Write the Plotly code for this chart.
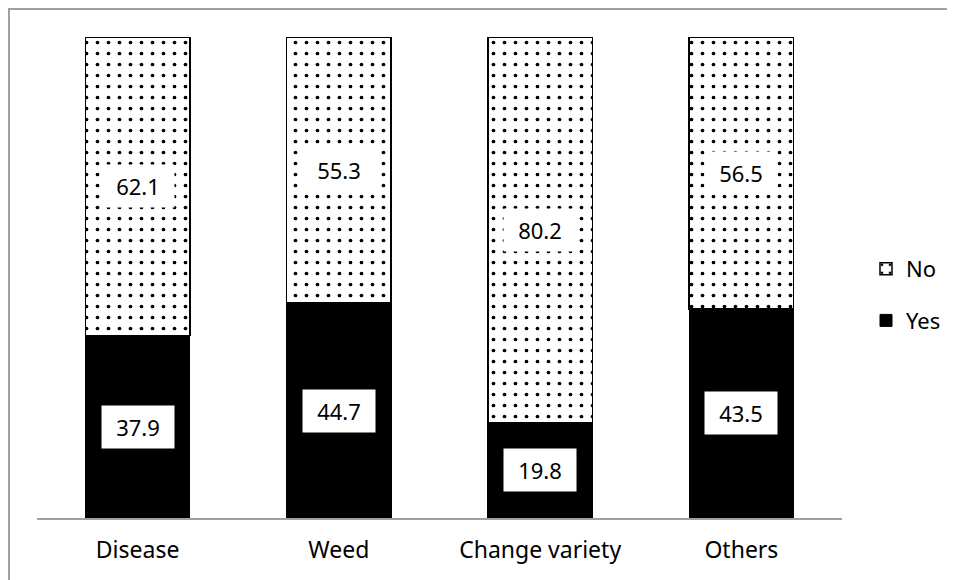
import plotly.graph_objects as go

categories = ["Disease", "Weed", "Change variety", "Others"]
yes_values = [37.9, 44.7, 19.8, 43.5]
no_values = [62.1, 55.3, 80.2, 56.5]

FONT = "Noto Sans"

fig = go.Figure()
fig.add_trace(go.Bar(
    x=categories, y=yes_values, name="Yes",
    marker=dict(color="black", line=dict(color="black", width=1)),
    legendgroup="yes", legendrank=2,
))
fig.add_trace(go.Bar(
    x=categories, y=no_values, name="No",
    marker=dict(color="white", line=dict(color="black", width=1.5),
                pattern=dict(shape=".", fgcolor="black", bgcolor="white",
                             fgopacity=1, size=11, solidity=0.09)),
    legendgroup="no", legendrank=1,
))

# value labels centred in each segment
for c, yv, nv in zip(categories, yes_values, no_values):
    for base, v in ((0, yv), (yv, nv)):
        fig.add_annotation(x=c, y=base + v / 2, text=f"{v:.1f}", showarrow=False,
                           bgcolor="white", width=70, height=40,
                           font=dict(family=FONT, size=22, color="black"))

# page has an 8px body margin, so figure coords = page coords - 8
OFF = 8
L, R, T, B = 37 - OFF, 113 + OFF, 37 - OFF, 62 + OFF
W, H = 955, 580
pw, ph = W - L - R, H - T - B
def px(x): return (x - OFF - L) / pw
def py(y): return (H - B - (y - OFF)) / ph

fig.add_shape(type="path", xref="paper", yref="paper",
              path=f"M {px(9)} {py(600)} L {px(9)} {py(9)} L {px(980)} {py(9)}",
              line=dict(color="#a0a0a0", width=2))

fig.update_layout(
    width=W, height=H, barmode="stack", bargap=0.48,
    margin=dict(l=L, r=R, t=T, b=B),
    plot_bgcolor="white", paper_bgcolor="white",
    font=dict(family=FONT, size=22, color="black"),
    showlegend=True,
    legend=dict(x=px(866), y=py(295), xanchor="left", yanchor="middle",
                traceorder="grouped", tracegroupgap=20,
                font=dict(family=FONT, size=22), itemwidth=30),
    xaxis=dict(showline=True, linecolor="#a0a0a0", linewidth=2, ticks="",
               ticklabelstandoff=10,
               tickfont=dict(family=FONT, size=23)),
    yaxis=dict(range=[0, 100], visible=False),
)
fig.write_html("out.html")
